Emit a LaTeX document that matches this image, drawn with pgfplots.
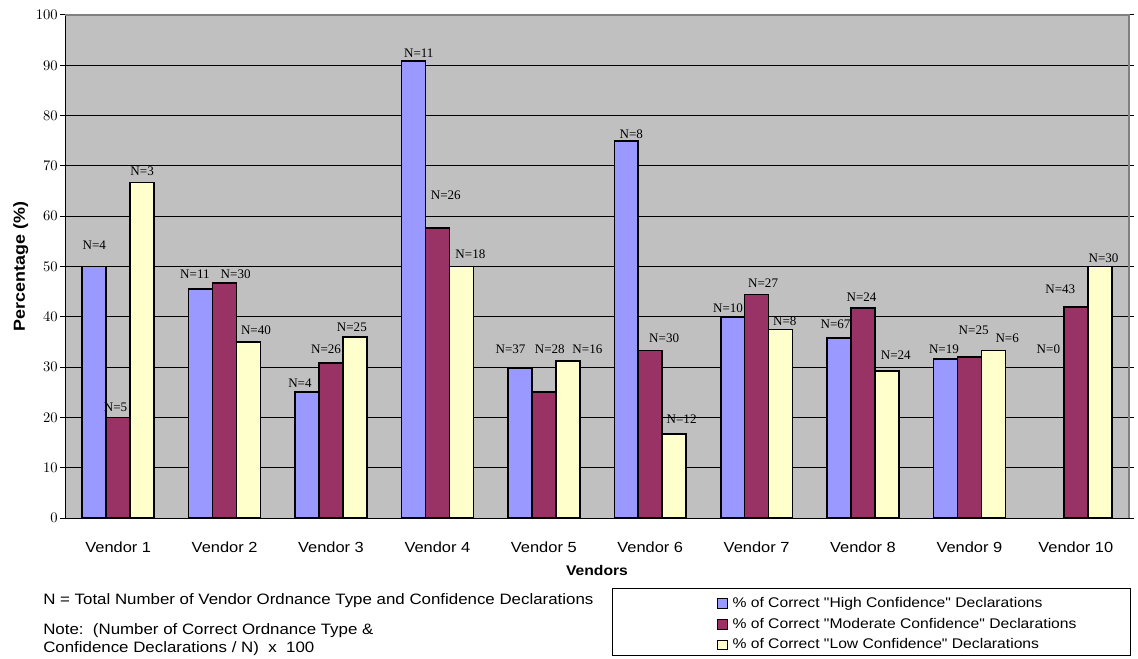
\documentclass[border=0pt]{standalone}
\usepackage{pgfplots}
\usepackage{pgfplotstable}
\pgfplotsset{compat=1.18}
\usepackage{fontspec}
\setmainfont{Liberation Sans}[FakeStretch=1.12, Ligatures=TeXOff]
\newfontfamily\nfont{Liberation Serif}
\definecolor{cHigh}{HTML}{9999FF}
\definecolor{cMod}{HTML}{993366}
\definecolor{cLow}{HTML}{FFFFCC}
\definecolor{plotbg}{HTML}{C0C0C0}
\definecolor{bordergray}{HTML}{808080}

\pgfplotstableread{
x high mod low
0 50.0 20.0 66.7
1 45.5 46.7 35.0
2 25.0 30.8 36.0
3 90.9 57.7 50.0
4 29.7 25.0 31.25
5 75.0 33.3 16.7
6 40.0 44.4 37.5
7 35.8 41.7 29.2
8 31.6 32.0 33.3
9 nan 41.9 50.0
}\bardata

\pgfplotstableread{
x y lab
-0.225 54.2 N=4
0.721 48.5 N=11
1.708 26.8 N=4
2.825 92.4 N=11
3.687 33.6 N=37
4.822 76.2 N=8
5.732 41.7 N=10
6.742 38.6 N=67
7.761 33.6 N=19
8.742 33.6 N=0
}\labhigh

\pgfplotstableread{
x y lab
-0.025 22.1 N=5
1.104 48.5 N=30
1.953 33.6 N=26
3.079 64.1 N=26
4.056 33.6 N=28
5.131 35.8 N=30
6.061 46.6 N=27
6.986 43.9 N=24
8.040 37.3 N=25
8.854 45.4 N=43
}\labmod

\pgfplotstableread{
x y lab
0.225 68.9 N=3
1.295 37.3 N=40
2.196 37.9 N=25
3.310 52.5 N=18
4.410 33.6 N=16
5.295 19.6 N=12
6.265 39.1 N=8
7.308 32.4 N=24
8.355 35.8 N=6
9.261 51.6 N=30
}\lablow

\begin{document}
\begin{tikzpicture}
\useasboundingbox (0,0) rectangle (853.5pt,493.5pt);
% legend box
\draw[black, line width=0.75pt, fill=white] (459pt,2.25pt) rectangle (847.5pt,52.5pt);
% notes
\node[anchor=west, inner sep=0pt, font=\fontsize{11.3}{13}\selectfont] at (32.25pt,42.75pt) {N = Total Number of Vendor Ordnance Type and Confidence Declarations};
\node[anchor=west, inner sep=0pt, font=\fontsize{11.3}{13}\selectfont] at (32.25pt,20.25pt) {Note:\ \ (Number of Correct Ordnance Type \&};
\node[anchor=west, inner sep=0pt, font=\fontsize{11.3}{13}\selectfont] at (32.25pt,6.75pt) {Confidence Declarations / N)\ \ x\ \ 100};
\begin{axis}[
  at={(48.75pt,105pt)}, anchor=south west,
  scale only axis, width=798pt, height=377.25pt,
  xmin=-0.5, xmax=9.5, ymin=0, ymax=100,
  axis background/.style={fill=plotbg},
  axis line style={draw=none},
  clip=false,
  xtick={0,...,9},
  xticklabels={Vendor 1,Vendor 2,Vendor 3,Vendor 4,Vendor 5,Vendor 6,Vendor 7,Vendor 8,Vendor 9,Vendor 10},
  minor xtick={-0.5,0.5,...,9.5},
  ytick={0,10,...,100},
  tick align=outside,
  major tick length=3.75pt, minor tick length=3.75pt,
  xtick style={draw=none},
  minor x tick style={black, line width=0.75pt},
  ytick style={black, line width=0.75pt},
  ymajorgrids, grid style={black, line width=0.7pt},
  xticklabel style={font=\fontsize{11}{13}\selectfont, anchor=center, yshift=-18pt},
  yticklabel style={font=\fontsize{10.8}{12}\selectfont, anchor=east, inner sep=0pt, xshift=-1.5pt},
  xlabel={Vendors}, ylabel={Percentage (\%)},
  xlabel style={font=\bfseries\fontsize{10.5}{12}\selectfont, at={(axis description cs:0.5,-0.1034)}, anchor=center},
  ylabel style={font=\bfseries\fontsize{12}{13}\selectfont, at={(axis description cs:-0.0415,0.5)}, anchor=center},
  legend style={at={(axis description cs:0.609,-0.1471)}, anchor=north west, draw=none, fill=none,
    font=\fontsize{10.5}{13}\selectfont, row sep=2.5pt,
    nodes={inner sep=1pt, text height=8.5pt, text depth=2.5pt}},
  legend cell align=left,
  nodes near coords style={font=\nfont\fontsize{9.8}{10}\selectfont, anchor=center, inner sep=0pt, text=black},
]
\addplot[ybar, bar width=0.225, bar shift=-0.225, fill=cHigh, draw=black, line width=1.2pt,
  legend image code/.code={\draw[fill=cHigh, draw=black, line width=0.7pt] (0pt,-3.6pt) rectangle (7.2pt,3.6pt); \path (9.5pt,0pt);}]
  table[x=x, y=high] {\bardata};
\addlegendentry{\% of Correct "High Confidence" Declarations}
\addplot[ybar, bar width=0.225, bar shift=0, fill=cMod, draw=black, line width=1.2pt,
  legend image code/.code={\draw[fill=cMod, draw=black, line width=0.7pt] (0pt,-3.6pt) rectangle (7.2pt,3.6pt); \path (9.5pt,0pt);}]
  table[x=x, y=mod] {\bardata};
\addlegendentry{\% of Correct "Moderate Confidence" Declarations}
\addplot[ybar, bar width=0.225, bar shift=0.225, fill=cLow, draw=black, line width=1.2pt,
  legend image code/.code={\draw[fill=cLow, draw=black, line width=0.7pt] (0pt,-3.6pt) rectangle (7.2pt,3.6pt); \path (9.5pt,0pt);}]
  table[x=x, y=low] {\bardata};
\addlegendentry{\% of Correct "Low Confidence" Declarations}
\addplot[draw=none, forget plot, nodes near coords, point meta=explicit symbolic] table[x=x, y=y, meta=lab] {\labhigh};
\addplot[draw=none, forget plot, nodes near coords, point meta=explicit symbolic] table[x=x, y=y, meta=lab] {\labmod};
\addplot[draw=none, forget plot, nodes near coords, point meta=explicit symbolic] table[x=x, y=y, meta=lab] {\lablow};
\draw[black, line width=0.75pt] (rel axis cs:0,0) -- (rel axis cs:0,1);
\draw[black, line width=0.75pt] (rel axis cs:0,0) -- (rel axis cs:1,0);
\draw[bordergray, line width=1.5pt] (rel axis cs:0,1) -- (rel axis cs:1,1) -- (rel axis cs:1,0);
\end{axis}
\end{tikzpicture}
\end{document}
